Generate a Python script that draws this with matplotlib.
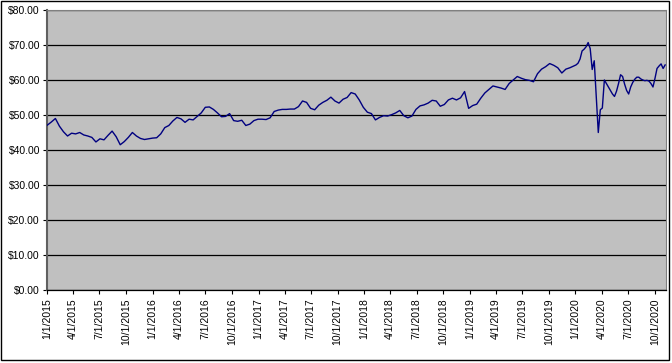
import pandas as pd
import matplotlib
matplotlib.use("Agg")
import matplotlib.pyplot as plt
from matplotlib.patches import Rectangle
from matplotlib.ticker import FuncFormatter

# Price, every two weeks from 2015-01-02 to 2019-12-13
biweekly_prices = [
    47.1, 48.0, 49.0, 46.8, 45.2, 44.0, 44.8, 44.6, 45.0, 44.3, 44.0, 43.6, 42.3,
    43.2, 42.9, 44.2, 45.4, 43.8, 41.5, 42.4, 43.6, 45.0, 44.0, 43.3, 43.0, 43.2,
    # 2016
    43.4, 43.5, 44.6, 46.4, 47.0, 48.3, 49.3, 48.9, 47.9, 48.8, 48.6, 49.6, 50.6,
    52.2, 52.3, 51.6, 50.6, 49.5, 49.6, 50.4, 48.4, 48.2, 48.5, 47.0, 47.4, 48.4,
    # 2017
    48.8, 48.8, 48.7, 49.2, 51.0, 51.4, 51.6, 51.6, 51.7, 51.7, 52.4, 54.0, 53.6,
    51.9, 51.5, 52.8, 53.6, 54.2, 55.1, 54.0, 53.4, 54.5, 55.0, 56.4, 56.0,
    # 2018
    54.3, 52.2, 50.8, 50.4, 48.6, 49.3, 49.8, 49.7, 50.1, 50.6, 51.3, 49.8, 49.2,
    49.7, 51.6, 52.6, 52.9, 53.4, 54.2, 54.0, 52.5, 53.0, 54.3, 54.8, 54.3,
    # 2019
    54.9, 56.7, 51.9, 52.7, 53.1, 54.8, 56.3, 57.3, 58.3, 58.0, 57.7, 57.3, 59.0,
    60.0, 61.0, 60.5, 60.1, 59.9, 59.5, 61.8, 63.1, 63.8, 64.7, 64.2, 63.5, 62.0,
    63.1, 63.5,
]

# 2020 read weekly from 2020-01-03
weekly_prices_2020 = [
    64.3, 64.8, 66.0, 68.3, 68.8, 69.5, 70.7, 69.0, 63.0, 65.5, 55.0, 45.0, 51.5,
    52.0, 60.0, 59.0, 58.0, 57.0, 56.0, 55.3, 56.8, 59.0, 61.5, 61.0, 58.8, 57.0,
    56.0, 58.0, 59.3, 60.2, 60.8, 60.8, 60.3, 60.0, 59.8, 59.9, 59.7, 59.0, 58.0,
    60.5, 63.3, 64.0, 64.6, 63.3, 64.3,
]

y_ticks = [0, 10, 20, 30, 40, 50, 60, 70, 80]
x_tick_dates = pd.date_range("2015-01-01", "2020-10-01", freq="QS")
x_tick_labels = [f"{d.month}/{d.day}/{d.year}" for d in x_tick_dates]


def main():
    dates = pd.date_range("2015-01-02", periods=len(biweekly_prices), freq="14D")
    dates = dates.append(pd.date_range("2020-01-03", periods=len(weekly_prices_2020), freq="7D"))
    prices = biweekly_prices + weekly_prices_2020

    plt.rcParams["font.family"] = ["Liberation Sans", "DejaVu Sans"]

    fig = plt.figure(figsize=(6.72, 3.63), dpi=100)
    ax = fig.add_axes([47 / 672, 1 - 290 / 363, 619 / 672, 280 / 363])
    ax.set_facecolor("#C0C0C0")

    ax.plot(dates, prices, color="#000080", linewidth=1.0, zorder=3)

    ax.set_ylim(0, 80)
    ax.set_yticks(y_ticks)
    ax.yaxis.set_major_formatter(FuncFormatter(lambda v, p: f"${v:.2f}"))
    ax.set_xlim(pd.Timestamp("2015-01-01"), pd.Timestamp("2020-11-09"))
    ax.set_xticks(x_tick_dates)
    ax.set_xticklabels(x_tick_labels, rotation=90)

    ax.grid(True, axis="y", color="black", linewidth=0.9, zorder=1)
    ax.set_axisbelow(True)
    ax.tick_params(axis="both", direction="out", length=3, width=0.8,
                   colors="black", labelsize=7.5, pad=2)
    ax.tick_params(axis="x", pad=3)

    for side in ["top", "right"]:
        ax.spines[side].set_color("#808080")
        ax.spines[side].set_linewidth(0.8)
    ax.spines["left"].set_color("#606060")
    ax.spines["left"].set_linewidth(1.5)
    ax.spines["bottom"].set_color("black")
    ax.spines["bottom"].set_linewidth(0.9)

    # black frame around the whole chart
    fig.patches.append(Rectangle((1 / 672, 3 / 363), 668 / 672, 359 / 363,
                                 transform=fig.transFigure, fill=False,
                                 edgecolor="black", linewidth=1.0))

    fig.savefig("out.png", dpi=100)


if __name__ == "__main__":
    main()
